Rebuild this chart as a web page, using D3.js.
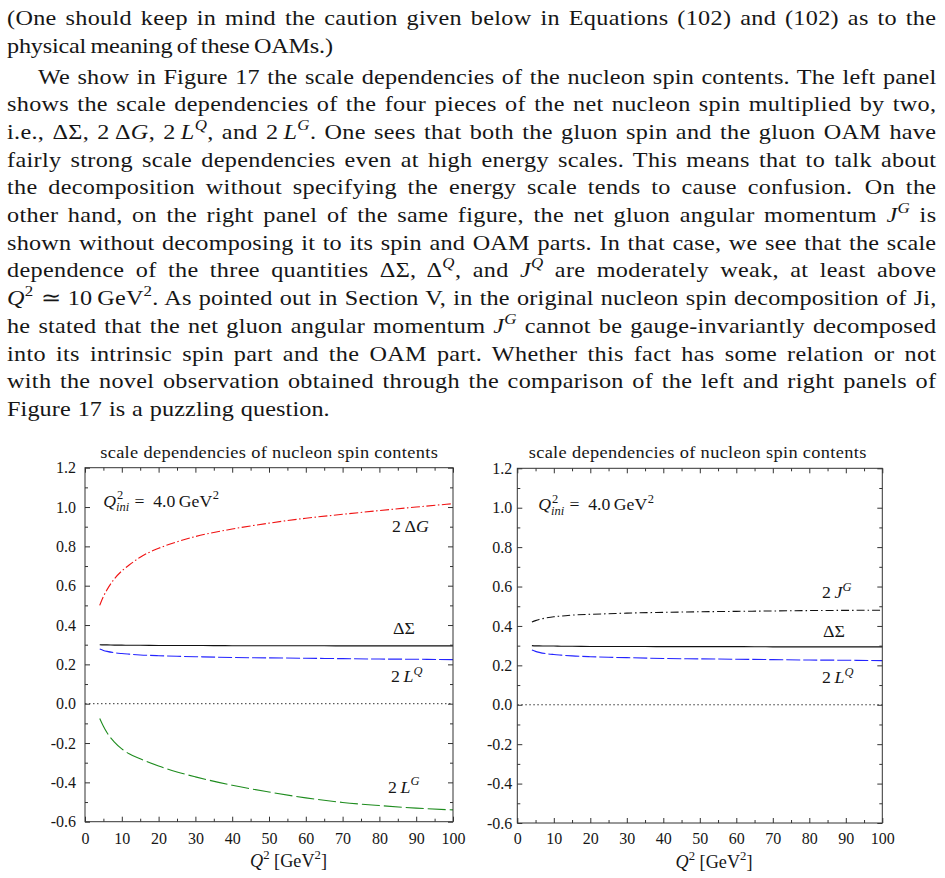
<!DOCTYPE html>
<html><head><meta charset="utf-8">
<script src="https://cdn.jsdelivr.net/npm/d3@7"></script>
<style>body{margin:0;background:#fff}svg{display:block}</style>
</head><body>
<svg id="fig" width="945" height="878"></svg>
<script>
// ---------------- data ----------------
const q2 = [4, 5, 6, 8, 10, 12, 15, 20, 25, 30, 40, 50, 60, 70, 80, 90, 100];
const twoDeltaG = [0.50, 0.545, 0.58, 0.635, 0.675, 0.705, 0.745, 0.79, 0.823, 0.85, 0.888, 0.918, 0.943, 0.963, 0.982, 1.0, 1.017];
const deltaSigma = [0.300, 0.299, 0.299, 0.298, 0.298, 0.297, 0.297, 0.296, 0.296, 0.296, 0.295, 0.295, 0.295, 0.294, 0.294, 0.294, 0.294];
const twoLQ = [0.278, 0.271, 0.266, 0.259, 0.255, 0.252, 0.248, 0.244, 0.241, 0.239, 0.235, 0.233, 0.231, 0.229, 0.227, 0.226, 0.224];
const twoLG = [-0.075, -0.115, -0.148, -0.195, -0.23, -0.255, -0.28, -0.317, -0.347, -0.372, -0.415, -0.449, -0.479, -0.502, -0.518, -0.531, -0.54];
const twoJG = [0.42, 0.427, 0.433, 0.441, 0.447, 0.450, 0.455, 0.459, 0.462, 0.465, 0.469, 0.472, 0.474, 0.476, 0.478, 0.479, 0.48];

const xMajor = [0, 10, 20, 30, 40, 50, 60, 70, 80, 90, 100];
const xTickLabels = ["0", "10", "20", "30", "40", "50", "60", "70", "80", "90", "100"];
const xMinor = [5, 15, 25, 35, 45, 55, 65, 75, 85, 95];
const yMajor = [-0.6, -0.4, -0.2, 0, 0.2, 0.4, 0.6, 0.8, 1.0, 1.2];
const yTickLabels = ["-0.6", "-0.4", "-0.2", "0.0", "0.2", "0.4", "0.6", "0.8", "1.0", "1.2"];
const yMinor = [-0.5, -0.3, -0.1, 0.1, 0.3, 0.5, 0.7, 0.9, 1.1];

const panelTitle = "scale dependencies of nucleon spin contents";

// paragraph text: strings are plain, [text, flags] with i=italic, s=superscript
const paraLines = [
  ["(One should keep in mind the caution given below in Equations (102) and (102) as to the"],
  ["physical meaning of these OAMs.)"],
  ["We show in Figure 17 the scale dependencies of the nucleon spin contents. The left panel"],
  ["shows the scale dependencies of the four pieces of the net nucleon spin multiplied by two,"],
  ["i.e., ΔΣ, 2\u2009Δ", ["G", "i"], ", 2\u2009", ["L", "i"], ["Q", "si"], ", and 2\u2009", ["L", "i"], ["G", "si"], ". One sees that both the gluon spin and the gluon OAM have"],
  ["fairly strong scale dependencies even at high energy scales. This means that to talk about"],
  ["the decomposition without specifying the energy scale tends to cause confusion.\u2002On the"],
  ["other hand, on the right panel of the same figure, the net gluon angular momentum ", ["J", "i"], ["G", "si"], " is"],
  ["shown without decomposing it to its spin and OAM parts. In that case, we see that the scale"],
  ["dependence of the three quantities ΔΣ, Δ", ["Q", "si"], ", and ", ["J", "i"], ["Q", "si"], " are moderately weak, at least above"],
  [["Q", "i"], ["2", "s"], " ≃ 10\u2009GeV", ["2", "s"], ". As pointed out in Section V, in the original nucleon spin decomposition of Ji,"],
  ["he stated that the net gluon angular momentum ", ["J", "i"], ["G", "si"], " cannot be gauge-invariantly decomposed"],
  ["into its intrinsic spin part and the OAM part. Whether this fact has some relation or not"],
  ["with the novel observation obtained through the comparison of the left and right panels of"],
  ["Figure 17 is a puzzling question."]
];

// ---------------- helpers ----------------
const SERIF = "Liberation Serif, Times New Roman, serif";
const INK = "#161616";
const svg = d3.select("#fig");
svg.append("rect").attr("width", 945).attr("height", 878).attr("fill", "#fff");

function mathText(parent, segs, fs, anchor) {
  const t = parent.append("text").attr("x", 0).attr("y", 0)
    .attr("font-family", SERIF).attr("font-size", fs)
    .style("white-space", "pre").attr("fill", INK)
    .attr("text-anchor", anchor || "start");
  let cur = 0;
  segs.forEach(s => {
    const txt = typeof s === "string" ? s : s[0];
    const fl = typeof s === "string" ? "" : s[1];
    const shift = fl.includes("s") ? -0.42 * fs : fl.includes("b") ? 0.28 * fs : 0;
    const ts = t.append("tspan").text(txt);
    if (shift !== cur) { ts.attr("dy", shift - cur); cur = shift; }
    if (fl.includes("s") || fl.includes("b")) ts.attr("font-size", 0.7 * fs);
    if (fl.includes("i")) ts.attr("font-style", "italic");
  });
  return t;
}

function placeText(segs, x, y, fs, width, anchor, sxDefault) {
  const g = svg.append("g");
  const t = mathText(g, segs, fs, anchor);
  const w = t.node().getComputedTextLength();
  const sx = width ? width / w : (sxDefault || 1);
  g.attr("transform", `translate(${x},${y}) scale(${sx},1)`);
  return g;
}

// justified line: mild glyph widening + letter-spacing + word-spacing
const GLYPH_SX = 1.1;
function justifyLine(segs, x, y, fs, target) {
  const g = svg.append("g");
  const t = mathText(g, segs, fs, "start");
  const txt = segs.map(s => typeof s === "string" ? s : s[0]).join("");
  const n = txt.length;
  const nSp = (txt.match(/ /g) || []).length || 1;
  const tgt = target / GLYPH_SX;
  const w0 = t.node().getComputedTextLength();
  const ls = Math.max(-0.3, Math.min(0.3, (tgt - w0) * 0.5 / n));
  t.attr("letter-spacing", ls);
  const w1 = t.node().getComputedTextLength();
  t.attr("word-spacing", (tgt - w1) / nSp);
  const w2 = t.node().getComputedTextLength();
  const sx = Math.abs(w2 - tgt) > 2 ? target / w2 : GLYPH_SX;
  g.attr("transform", `translate(${x},${y}) scale(${sx},1)`);
}

// ---------------- paragraph ----------------
const paraX = [7, 7, 38, 7, 7, 7, 7, 7, 7, 7, 7, 7, 7, 7, 7];
const paraEnd = [937, 333, 937, 937, 937, 937, 937, 937, 937, 937, 937, 937, 937, 937, 330];
paraLines.forEach((segs, i) => {
  const y = i < 2 ? 25 + i * 27.5 : 83.5 + (i - 2) * 27.7;
  justifyLine(segs, paraX[i], y, 22, paraEnd[i] - paraX[i]);
});

// ---------------- panels ----------------
function drawPanel(o) {
  const x = d3.scaleLinear().domain([0, 100]).range([o.l, o.r]);
  const y = d3.scaleLinear().domain([-0.6, 1.2]).range([o.b, o.t]);
  const g = svg.append("g");

  g.append("line").attr("x1", x(0)).attr("x2", x(100)).attr("y1", y(0)).attr("y2", y(0))
    .attr("stroke", "#333").attr("stroke-width", 1).attr("stroke-dasharray", "1.5,2.5");

  const line = d3.line().x((d, i) => x(q2[i])).y(d => y(d)).curve(d3.curveMonotoneX);
  o.series.forEach(s => {
    g.append("path").attr("d", line(s.vals)).attr("fill", "none")
      .attr("stroke", s.color).attr("stroke-width", 1.1)
      .attr("stroke-dasharray", s.dash || null);
  });

  const ax = (gen, tx, ty) => {
    const a = g.append("g").attr("transform", `translate(${tx},${ty})`).call(gen);
    a.select(".domain").remove();
    a.attr("font-family", SERIF).attr("font-size", 16);
    a.selectAll("line").attr("stroke", "#333");
    a.selectAll("text").attr("fill", INK);
    return a;
  };
  ax(d3.axisBottom(x).tickValues(xMajor).tickFormat((d, i) => xTickLabels[i]).tickSize(-5).tickPadding(o.xpad), 0, o.b);
  ax(d3.axisBottom(x).tickValues(xMinor).tickFormat("").tickSize(-3), 0, o.b);
  ax(d3.axisTop(x).tickValues(xMajor).tickFormat("").tickSize(-5), 0, o.t);
  ax(d3.axisTop(x).tickValues(xMinor).tickFormat("").tickSize(-3), 0, o.t);
  ax(d3.axisLeft(y).tickValues(yMajor).tickFormat((d, i) => yTickLabels[i]).tickSize(-5).tickPadding(o.ypad), o.l, 0);
  ax(d3.axisLeft(y).tickValues(yMinor).tickFormat("").tickSize(-3), o.l, 0);
  ax(d3.axisRight(y).tickValues(yMajor).tickFormat("").tickSize(-5), o.r, 0);
  ax(d3.axisRight(y).tickValues(yMinor).tickFormat("").tickSize(-3), o.r, 0);

  g.append("rect").attr("x", o.l).attr("y", o.t).attr("width", o.r - o.l).attr("height", o.b - o.t)
    .attr("fill", "none").attr("stroke", "#333").attr("stroke-width", 1);

  // title
  const tg = svg.append("g").attr("transform", `translate(${o.titleX},458) scale(1.08,1)`);
  const tt = mathText(tg, [panelTitle], 17, "middle");
  const tw = tt.node().getComputedTextLength();
  const tls = (338 / 1.08 - tw) / panelTitle.length;
  tt.attr("letter-spacing", tls).attr("x", tls / 2);

  // x-axis title
  placeText([["Q", "i"], ["2", "s"], " [GeV", ["2", "s"], "]"], o.xlabX, o.xlabY, 18, 77, "middle");

  // Q^2_ini label
  const qg = svg.append("g");
  const fs = 17;
  const tQ = qg.append("text").attr("x", 0).attr("y", 0).attr("font-family", SERIF).attr("font-size", fs)
    .attr("font-style", "italic").attr("fill", INK).text("Q");
  const wQ = tQ.node().getComputedTextLength();
  const t2 = qg.append("text").attr("x", wQ + 1).attr("y", -7.5).attr("font-family", SERIF).attr("font-size", 12)
    .attr("fill", INK).text("2");
  const tIni = qg.append("text").attr("x", wQ).attr("y", 4.5).attr("font-family", SERIF).attr("font-size", 12)
    .attr("font-style", "italic").attr("fill", INK).text("ini");
  const wS = Math.max(t2.node().getComputedTextLength() + 1, tIni.node().getComputedTextLength());
  const tRest = qg.append("text").attr("x", wQ + wS + 5).attr("y", 0).attr("font-family", SERIF).attr("font-size", fs)
    .style("white-space", "pre").attr("fill", INK).text("=  4.0\u2009GeV");
  const wR = tRest.node().getComputedTextLength();
  qg.append("text").attr("x", wQ + wS + 5 + wR + 0.5).attr("y", -7.5).attr("font-family", SERIF).attr("font-size", 12)
    .attr("fill", INK).text("2");
  qg.attr("transform", `translate(${o.qx},${o.qy}) scale(1.04,1)`);

  // series labels
  o.labels.forEach(L => placeText(L.segs, L.x, L.y, 17, null, "start", 1.05));
}

drawPanel({
  l: 85, r: 453, t: 467.7, b: 821.7, xpad: 10.6, ypad: 9,
  titleX: 269, xlabX: 288.5, xlabY: 866.5, qx: 103.3, qy: 506.5,
  series: [
    { vals: twoDeltaG, color: "#f01212", dash: "9,2.5,1.5,2.5" },
    { vals: deltaSigma, color: "#111", dash: null },
    { vals: twoLQ, color: "#2424ff", dash: "14,3" },
    { vals: twoLG, color: "#1e8c1e", dash: "18,4" }
  ],
  labels: [
    { segs: ["2\u2009Δ", ["G", "i"]], x: 392, y: 531.5 },
    { segs: ["ΔΣ"], x: 393, y: 634 },
    { segs: ["2\u2009", ["L", "i"], ["Q", "si"]], x: 391, y: 682 },
    { segs: ["2\u2009", ["L", "i"], ["G", "si"]], x: 388, y: 792.5 }
  ]
});

drawPanel({
  l: 517.3, r: 882.3, t: 468.3, b: 823, xpad: 9.4, ypad: 5,
  titleX: 697.5, xlabX: 714, xlabY: 868, qx: 538.3, qy: 510,
  series: [
    { vals: twoJG, color: "#111", dash: "8,3,1.5,3" },
    { vals: deltaSigma, color: "#111", dash: null },
    { vals: twoLQ, color: "#2424ff", dash: "14,3" }
  ],
  labels: [
    { segs: ["2\u2009", ["J", "i"], ["G", "si"]], x: 822, y: 598 },
    { segs: ["ΔΣ"], x: 823, y: 636.5 },
    { segs: ["2\u2009", ["L", "i"], ["Q", "si"]], x: 822, y: 683 }
  ]
});
</script>
</body></html>
